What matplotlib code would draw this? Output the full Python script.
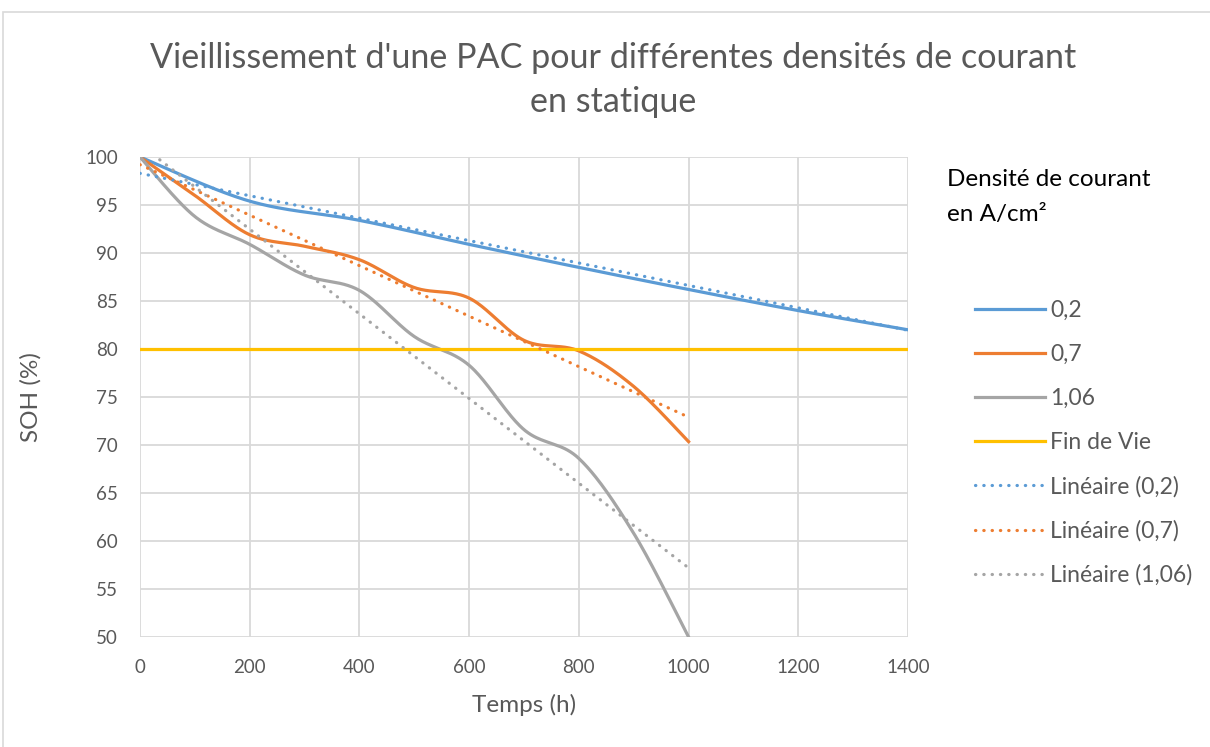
import numpy as np
import matplotlib
matplotlib.use("Agg")
from matplotlib import pyplot as plt
from matplotlib.patches import Rectangle

plt.rcParams['font.family'] = ['Lato', 'DejaVu Sans']

# temps en heures
temps = [0, 100, 200, 300, 400, 500, 600, 700, 800, 900, 1000]
temps_02 = [0, 200, 400, 600, 800, 1000, 1200, 1400]

# SOH (%) pour chaque densite de courant
soh_02 = [100, 95.4, 93.4, 90.9, 88.5, 86.2, 84.0, 82.0]
soh_07 = [100, 96.0, 91.9, 90.7, 89.3, 86.4, 85.3, 80.9, 79.8, 76.1, 70.35]
soh_106 = [100, 93.8, 90.9, 87.7, 86.1, 81.3, 78.3, 71.6, 68.6, 60.8, 50.0]

fin_de_vie_x = [0, 1400]
fin_de_vie_y = [80, 80]

# courbes de tendance lineaires (valeurs aux extremites)
tend_02_x = [0, 1400]
tend_02_y = [98.3, 81.95]
tend_07_x = [0, 1000]
tend_07_y = [99.2, 72.9]
tend_106_x = [0, 1000]
tend_106_y = [101.3, 57.2]

BLEU = '#5B9BD5'
ORANGE = '#ED7D31'
GRIS = '#A5A5A5'
JAUNE = '#FFC000'
TEXTE = '#595959'


def lisser(x, y, n=40):
    # courbe lissee facon tableur (Catmull-Rom / Bezier)
    x = np.asarray(x, float)
    y = np.asarray(y, float)
    px = np.concatenate([[x[0]], x, [x[-1]]])
    py = np.concatenate([[y[0]], y, [y[-1]]])
    t = np.linspace(0, 1, n)
    xs, ys = [], []
    for i in range(1, len(px) - 2):
        p0 = np.array([px[i], py[i]])
        p3 = np.array([px[i + 1], py[i + 1]])
        c1 = p0 + (p3 - np.array([px[i - 1], py[i - 1]])) / 6
        c2 = p3 - (np.array([px[i + 2], py[i + 2]]) - p0) / 6
        b = ((1 - t) ** 3)[:, None] * p0 + (3 * (1 - t) ** 2 * t)[:, None] * c1 \
            + (3 * (1 - t) * t ** 2)[:, None] * c2 + (t ** 3)[:, None] * p3
        xs.append(b[:, 0])
        ys.append(b[:, 1])
    return np.concatenate(xs), np.concatenate(ys)


fig = plt.figure(figsize=(12.1, 7.47), dpi=100)
fig.patches.append(Rectangle((3 / 1210, -0.1), 1.2, 1.1 - 12 / 747, transform=fig.transFigure,
                             fill=False, edgecolor='#D9D9D9', linewidth=1.2))
ax = fig.add_axes([140 / 1210, 1 - 637 / 747, 768 / 1210, 480 / 747])

lw = 2.3
dots = (0, (0.1, 2.5))
ax.plot(*lisser(temps_02, soh_02), color=BLEU, lw=lw, label='0,2', zorder=4)
ax.plot(*lisser(temps, soh_07), color=ORANGE, lw=lw, label='0,7', zorder=4)
ax.plot(*lisser(temps, soh_106), color=GRIS, lw=lw, label='1,06', zorder=4)
ax.plot(fin_de_vie_x, fin_de_vie_y, color=JAUNE, lw=lw, label='Fin de Vie', zorder=4)
ax.plot(tend_02_x, tend_02_y, color=BLEU, lw=lw, ls=dots, dash_capstyle='round',
        label='Linéaire (0,2)', zorder=5)
ax.plot(tend_07_x, tend_07_y, color=ORANGE, lw=lw, ls=dots, dash_capstyle='round',
        label='Linéaire (0,7)', zorder=5)
ax.plot(tend_106_x, tend_106_y, color=GRIS, lw=lw, ls=dots, dash_capstyle='round',
        label='Linéaire (1,06)', zorder=5)

ax.set_xlim(0, 1400)
ax.set_ylim(50, 100)
ax.set_xticks(range(0, 1401, 200))
ax.set_yticks(range(50, 101, 5))
ax.grid(True, color='#D9D9D9', lw=1.3)
ax.set_axisbelow(True)
for s in ax.spines.values():
    s.set_visible(False)
ax.tick_params(length=0, pad=16, labelsize=13.5, labelcolor=TEXTE)

ax.set_xlabel('Temps (h)', fontsize=17.5, color=TEXTE)
ax.set_ylabel('SOH (%)', fontsize=17.5, color=TEXTE)
ax.xaxis.set_label_coords(0.5, -0.118)
ax.yaxis.set_label_coords(-0.128, 0.5)

fig.text(613 / 1210, 1 - 58 / 747, "Vieillissement d'une PAC pour différentes densités de courant",
         ha='center', va='center', fontsize=24.6, color=TEXTE)
fig.text(613 / 1210, 1 - 102 / 747, 'en statique', ha='center', va='center',
         fontsize=24.6, color=TEXTE)

fig.text(947 / 1210, 1 - 180 / 747, 'Densité de courant', ha='left', va='center', fontsize=17.5, color='black')
fig.text(947 / 1210, 1 - 214 / 747, 'en A/cm²', ha='left', va='center', fontsize=17.5, color='black')

leg = ax.legend(loc='upper left', bbox_to_anchor=(975 / 1210, 1 - 300 / 747),
                bbox_transform=fig.transFigure, frameon=False, fontsize=16.5,
                handlelength=3.05, handletextpad=0.22, labelspacing=1.0,
                borderpad=0, borderaxespad=0)
for t in leg.get_texts():
    t.set_color(TEXTE)

fig.savefig('out.png', dpi=100)
